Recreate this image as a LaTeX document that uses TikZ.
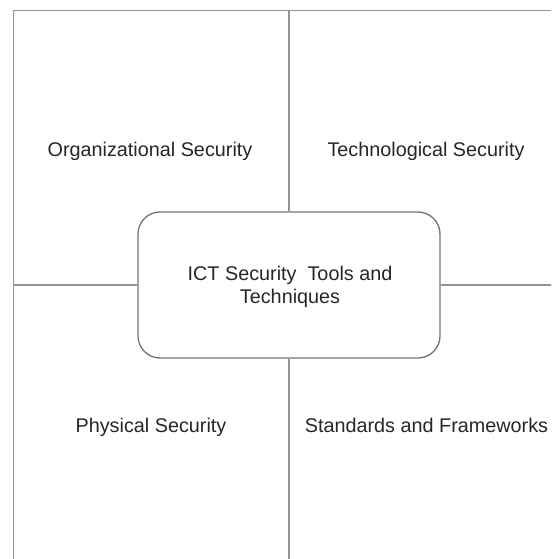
\documentclass[tikz,border=0pt]{standalone}
\usepackage{fontspec}
\setmainfont{Liberation Sans}
\begin{document}
\begin{tikzpicture}[x=1pt,y=-1pt,
  frame/.style={draw=black!42, line width=1.5pt},
  quadlabel/.style={text=black!85, font=\fontsize{19.8}{23}\selectfont, inner sep=0pt, anchor=base},
  hub/.style={draw=black!55, line width=1.3pt, rounded corners=22pt, minimum width=302pt, minimum height=146pt},
  hubtext/.style={align=center, text=black!85, inner sep=0pt, font=\fontsize{19.8}{22.5}\selectfont}]
\useasboundingbox (0,0) rectangle (551,559);
\clip (0,0) rectangle (551,559);
\coordinate (tl) at (13.5,10.5);
\coordinate (tr) at (560,10.5);
\coordinate (bl) at (13.5,570);
\coordinate (tm) at (289,10.5);
\coordinate (bm) at (289,570);
\coordinate (lm) at (13.5,285);
\coordinate (rm) at (560,285);
\node[hub] (c) at (289,285) {};
\node[hubtext] (ct) at (290,287) {ICT Security\ \ Tools and\\Techniques};
\node[quadlabel] (org) at (150,157) {Organizational Security};
\node[quadlabel] (tech) at (426,157) {Technological Security};
\node[quadlabel] (phys) at (151,432) {Physical Security};
\node[quadlabel] (std) at (426.5,432) {Standards and Frameworks};
\draw[frame] (bl) -- (tl) -- (tr);
\draw[frame] (tm) -- (c.north);
\draw[frame] (c.south) -- (bm);
\draw[frame] (lm) -- (c.west);
\draw[frame] (c.east) -- (rm);
\end{tikzpicture}
\end{document}
